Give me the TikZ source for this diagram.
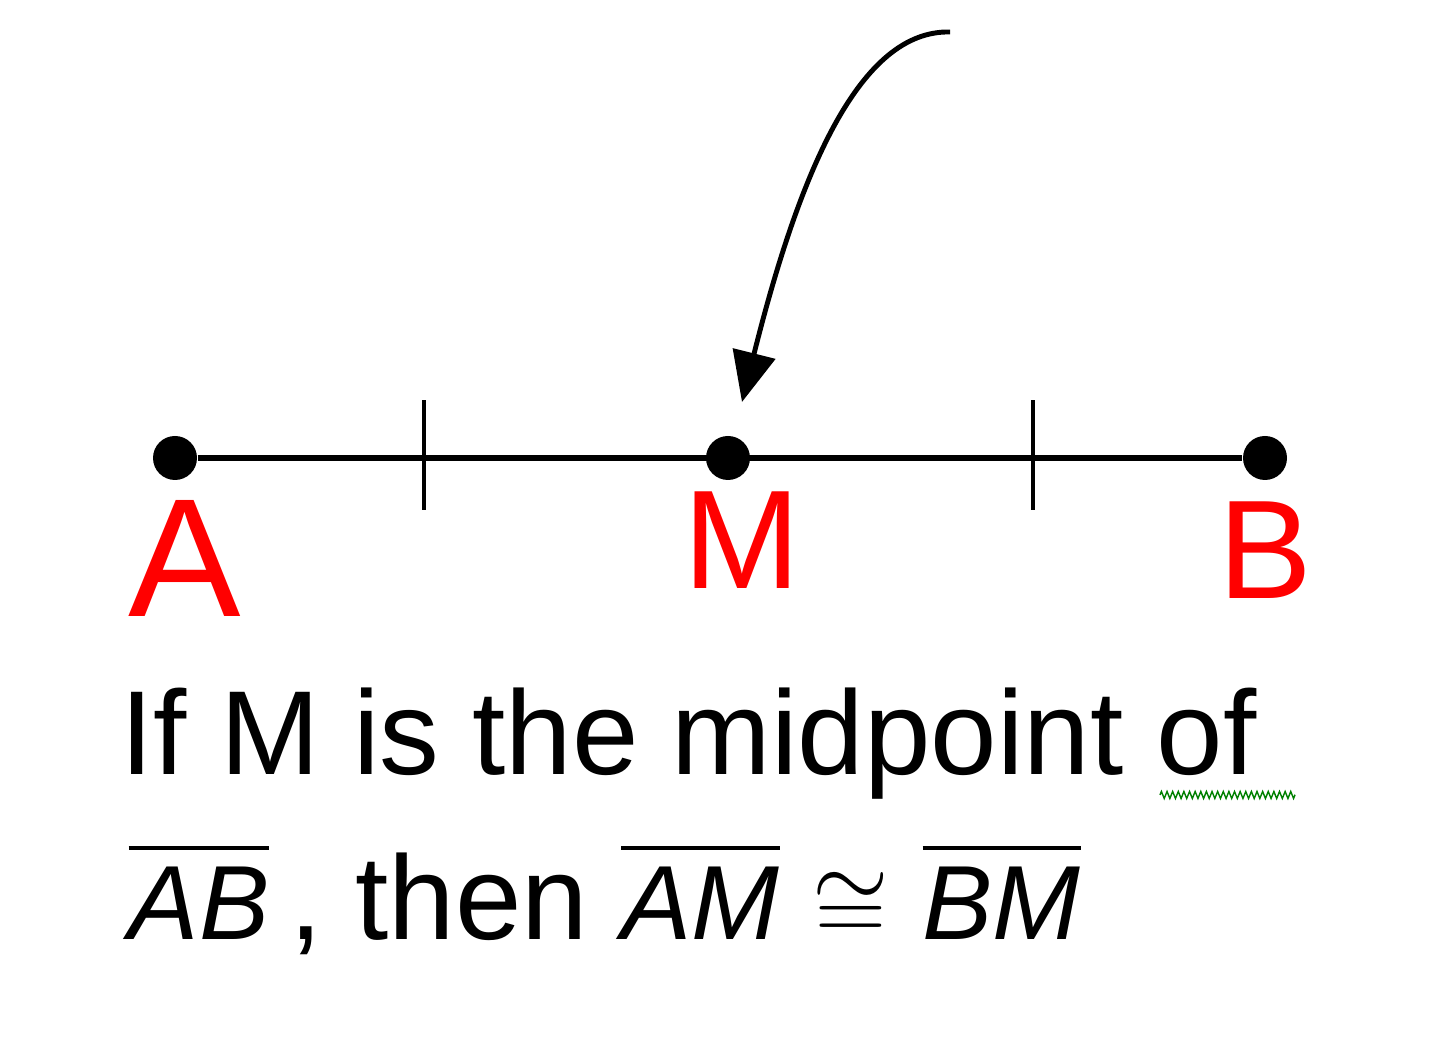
\documentclass[tikz,border=0pt]{standalone}
\usepackage{fix-cm}
\usepackage{fontspec}
\setmainfont{Liberation Sans}
\usepackage{tikz}
\usetikzlibrary{arrows.meta,decorations.pathmorphing}
\definecolor{labelred}{rgb}{1.0, 0.0, 0.0}
\definecolor{spellgreen}{rgb}{0.0, 0.5, 0.0}
\newcommand{\segbar}[1]{\leavevmode\vbox{\hrule height 1.2pt\kern 5pt\hbox{\fontsize{30}{36}\selectfont\itshape #1}}}

\begin{document}
\begin{tikzpicture}
        \useasboundingbox (0, 0) rectangle (14.4, 10.6);
        \tikzset{dot/.style={circle, fill, inner sep=0pt, minimum size=0.44cm},
                 ptlabel/.style={text=labelred, font=\fontsize{40}{44}\selectfont}}
        \node[dot] (A) at (1.75, 6.02) {};
        \node[dot] (M) at (7.28, 6.02) {};
        \node[dot] (B) at (12.65, 6.02) {};
        \draw[line width = 1.7pt] (A) -- (B);
        \draw[line width = 1.4pt] (4.24, 5.50) -- (4.24, 6.60);
        \draw[line width = 1.4pt] (10.33, 5.50) -- (10.33, 6.60);
        \coordinate (tail) at (9.5, 10.28);
        \draw[line width = 1.4pt, -{Triangle[length=5mm, width=4.3mm]}, shorten >=0.35cm]
            (tail) .. controls (8.6, 10.3) and (8.0, 8.9) .. (M);
        \node[ptlabel, font=\fontsize{48}{52}\selectfont] (labA) at (1.85, 5.02) {A};
        \node[ptlabel] (labM) at (7.42, 5.20) {M};
        \node[ptlabel] (labB) at (12.65, 5.10) {B};
        \node[anchor=base west, inner sep=0pt, font=\fontsize{34}{40}\selectfont] (line1) at (1.2, 2.85) {If M is the midpoint of};
        \draw[spellgreen, decorate, decoration={zigzag, segment length=1.6pt, amplitude=1pt}] (11.6, 2.65) -- (12.95, 2.65);
        \node[anchor=base west, inner sep=0pt, font=\fontsize{34}{40}\selectfont] (line2) at (1.28, 1.2)
            {\segbar{AB}\,, then \segbar{AM}\ {\fontsize{28}{32}\selectfont$\cong$}\ \segbar{BM}};
      \end{tikzpicture}
\end{document}
